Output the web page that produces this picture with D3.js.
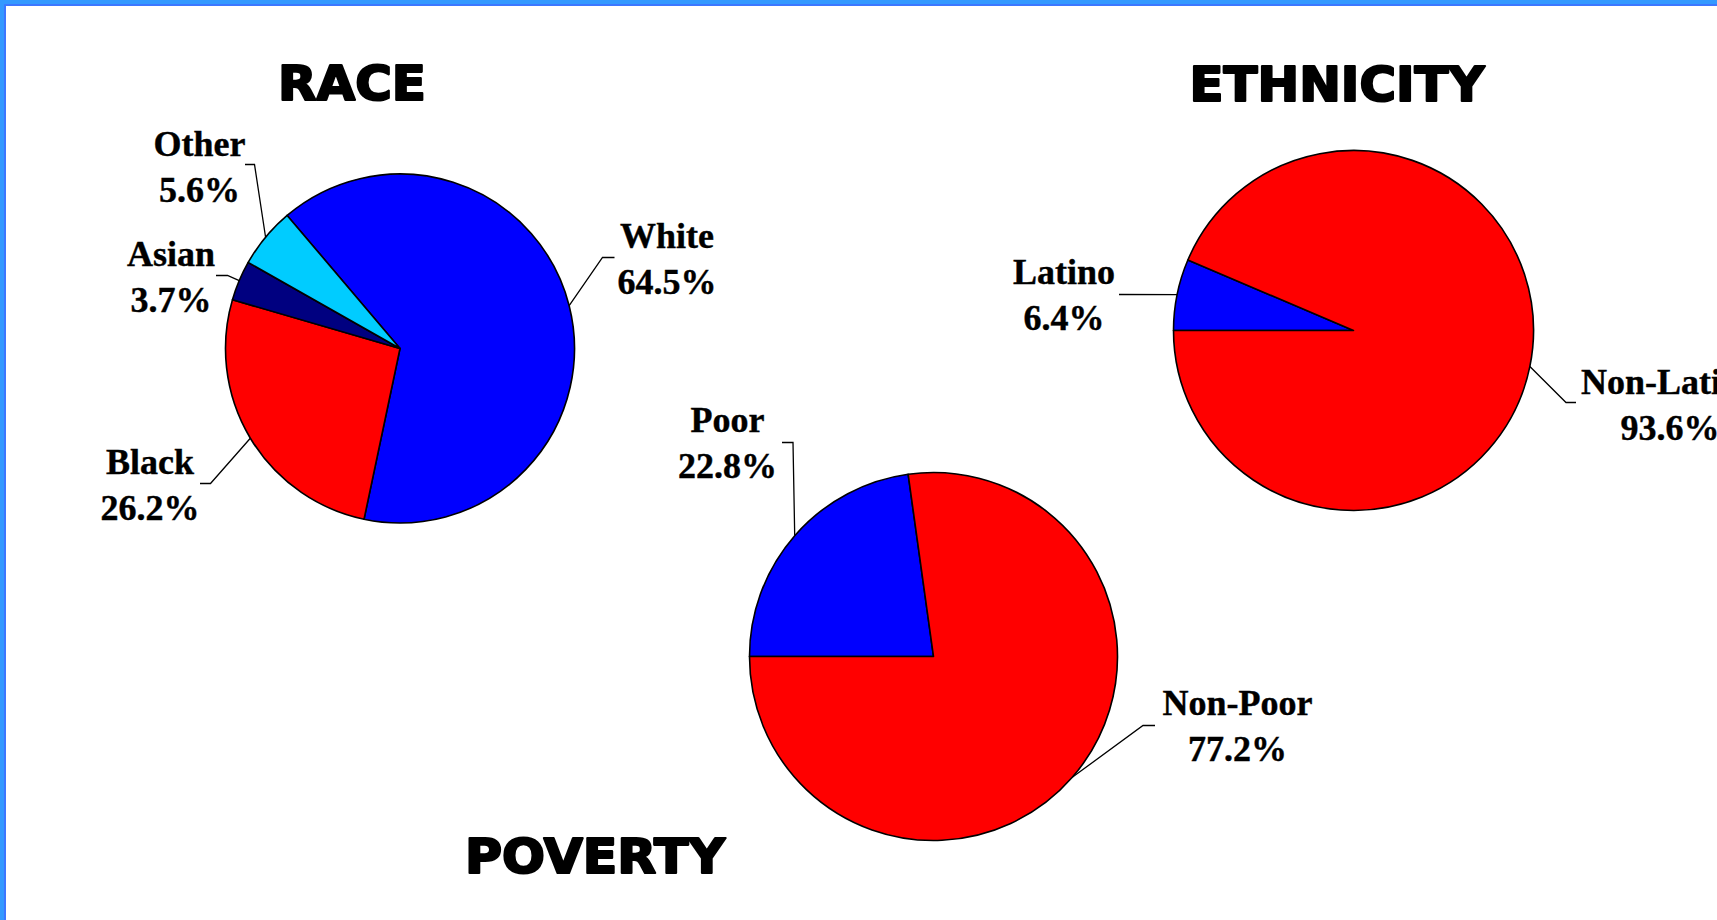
<!DOCTYPE html>
<html>
<head>
<meta charset="utf-8">
<script src="https://cdn.jsdelivr.net/npm/d3@7"></script>
<style>
  html, body { margin: 0; padding: 0; background: #fff; }
  svg { display: block; }
</style>
</head>
<body>
<svg id="chart" width="1717" height="920"></svg>
<script>
// ---- data ----
const raceLabels = ["White", "Black", "Asian", "Other"];
const raceValues = [64.5, 26.2, 3.7, 5.6];

const ethnicityLabels = ["Latino", "Non-Latino"];
const ethnicityValues = [6.4, 93.6];

const povertyLabels = ["Poor", "Non-Poor"];
const povertyValues = [22.8, 77.2];

// ---- styling & layout ----
const colors = {
  White: "#0000ff", Black: "#ff0000", Asian: "#000080", Other: "#00ccff",
  Latino: "#0000ff", "Non-Latino": "#ff0000",
  Poor: "#0000ff", "Non-Poor": "#ff0000"
};

const charts = [
  {
    title: "RACE", labels: raceLabels, values: raceValues,
    cx: 400, cy: 348.5, r: 174.5, start: -40.3,
    titlePos: { x: 352, y: 99.5, w: 148 },
    callouts: {
      White: { x: 667, y: 248, knee: [[614.5, 257.5], [602.5, 257.5]] },
      Black: { x: 150, y: 474, knee: [[200, 483.5], [210.5, 483.5]] },
      Asian: { x: 171, y: 265.5, knee: [[216, 275.5], [227.5, 275.5]] },
      Other: { x: 199.5, y: 156, knee: [[245, 164.5], [254.5, 164.5]] }
    }
  },
  {
    title: "ETHNICITY", labels: ethnicityLabels, values: ethnicityValues,
    cx: 1353.5, cy: 330.5, r: 180, start: -90,
    titlePos: { x: 1337, y: 100.5, w: 295 },
    callouts: {
      Latino: { x: 1064, y: 284, knee: [[1119, 294.5]] },
      "Non-Latino": { x: 1670, y: 393.5, knee: [[1576, 402.5], [1566, 402.5]] }
    }
  },
  {
    title: "POVERTY", labels: povertyLabels, values: povertyValues,
    cx: 933.5, cy: 656.5, r: 184, start: -90,
    titlePos: { x: 595, y: 872.5, w: 260 },
    callouts: {
      Poor: { x: 727.5, y: 431.5, knee: [[782, 442.5], [793, 442.5]] },
      "Non-Poor": { x: 1237.5, y: 714.5, knee: [[1155, 725.5], [1143, 725.5]] }
    }
  }
];

const labelFont = "'Liberation Serif', 'Times New Roman', serif";
const titleFont = "'DejaVu Sans', Verdana, sans-serif";
const lineGap = 46;

const svg = d3.select("#chart");

// frame: blue bars along the top and left edges
svg.append("rect").attr("x", 0).attr("y", 0).attr("width", 1717).attr("height", 6).attr("fill", "#3399ff");
svg.append("rect").attr("x", 0).attr("y", 0).attr("width", 6).attr("height", 920).attr("fill", "#3399ff");
svg.append("rect").attr("x", 6).attr("y", 4.2).attr("width", 1711).attr("height", 1.6).attr("fill", "#3f6fff");
svg.append("rect").attr("x", 4.2).attr("y", 4.2).attr("width", 1.6).attr("height", 916).attr("fill", "#3f6fff");

const rad = Math.PI / 180;

charts.forEach(c => {
  const data = c.labels.map((l, i) => ({ label: l, value: c.values[i] }));
  const pie = d3.pie()
    .sort(null)
    .value(d => d.value)
    .startAngle(c.start * rad)
    .endAngle(c.start * rad + 2 * Math.PI);
  const arcs = pie(data);
  const arc = d3.arc().innerRadius(0).outerRadius(c.r);

  const g = svg.append("g").attr("transform", `translate(${c.cx},${c.cy})`);

  g.selectAll("path.slice")
    .data(arcs)
    .join("path")
    .attr("class", "slice")
    .attr("d", arc)
    .attr("fill", d => colors[d.data.label])
    .attr("stroke", "#000")
    .attr("stroke-width", 1.6)
    .attr("stroke-linejoin", "round");

  // leader lines from label to the slice's mid-angle on the rim
  arcs.forEach(a => {
    const co = c.callouts[a.data.label];
    const mid = (a.startAngle + a.endAngle) / 2;
    const edge = [c.cx + c.r * Math.sin(mid), c.cy - c.r * Math.cos(mid)];
    const pts = co.knee.concat([edge]);
    svg.append("path")
      .attr("d", d3.line()(pts))
      .attr("fill", "none")
      .attr("stroke", "#000")
      .attr("stroke-width", 1.3);

    const t = svg.append("text")
      .attr("x", co.x)
      .attr("y", co.y)
      .attr("text-anchor", "middle")
      .attr("font-family", labelFont)
      .attr("font-weight", "bold")
      .attr("font-size", 36)
      .attr("fill", "#000")
      .attr("stroke", "#000")
      .attr("stroke-width", 0.4);
    t.append("tspan").attr("x", co.x).attr("y", co.y).text(a.data.label);
    t.append("tspan").attr("x", co.x).attr("y", co.y + lineGap)
      .text(d3.format(".1f")(a.data.value) + "%");
  });

  // heavy title set in bold with an outline for extra weight
  svg.append("text")
    .attr("x", c.titlePos.x)
    .attr("y", c.titlePos.y)
    .attr("text-anchor", "middle")
    .attr("font-family", titleFont)
    .attr("font-weight", "bold")
    .attr("font-size", 48)
    .attr("textLength", c.titlePos.w)
    .attr("lengthAdjust", "spacingAndGlyphs")
    .attr("fill", "#000")
    .attr("stroke", "#000")
    .attr("stroke-width", 2.2)
    .attr("stroke-linejoin", "round")
    .text(c.title);
});
</script>
</body>
</html>
